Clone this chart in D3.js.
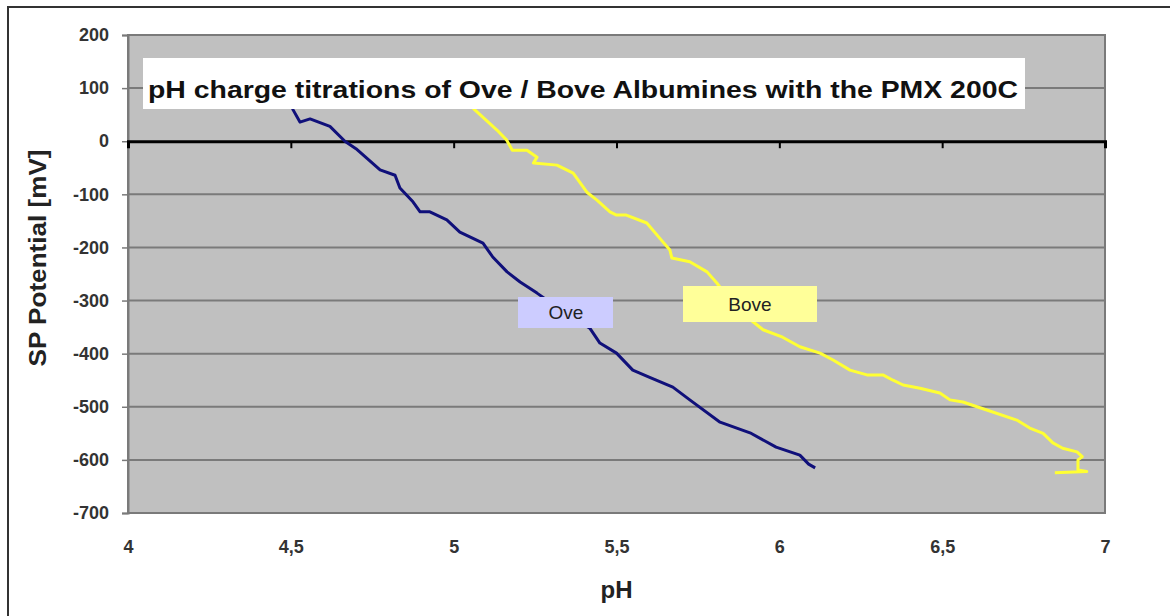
<html>
<meta charset="utf-8">
<style>
body{ margin:0; background:#fff; }
text{ font-family:"Liberation Sans", Arial, sans-serif; }
.tick text{ font-size:18px; font-weight:bold; fill:#333; }
.grid line{ stroke:#7a7a7a; stroke-width:2; }
</style>
<body>
<script src="https://d3js.org/d3.v7.min.js"></script>
<script>

// tick values
var xTicks=[4,4.5,5,5.5,6,6.5,7];
var yTicks=[200,100,0,-100,-200,-300,-400,-500,-600,-700];

// Ove titration (pH, mV)
var ovePH=[4.50,4.507,4.528,4.559,4.62,4.666,4.70,4.774,4.82,4.835,4.875,4.897,4.927,4.979,5.019,5.09,5.12,5.164,5.204,5.256,5.30,5.36,5.418,5.449,5.50,5.55,5.60,5.673,5.725,5.818,5.91,5.99,6.063,6.09,6.11];
var oveMV=[70,59,36,42,28,0,-14,-54,-64,-88,-114,-133,-133,-148,-171,-192,-218,-246,-265,-286,-305,-330,-352,-380,-399,-431,-444,-463,-487,-529,-549,-576,-591,-608,-615];

// Bove titration (pH, mV)
var bovePH=[5.04,5.065,5.133,5.163,5.18,5.225,5.256,5.245,5.317,5.367,5.409,5.44,5.48,5.50,5.53,5.593,5.643,5.664,5.67,5.725,5.778,5.808,5.85,5.919,5.95,6.01,6.063,6.125,6.165,6.217,6.269,6.318,6.349,6.38,6.432,6.493,6.524,6.564,6.607,6.637,6.729,6.769,6.81,6.84,6.87,6.914,6.93,6.917,6.917,6.944,6.846];
var boveMV=[75,59,21,2,-17,-17,-30,-41,-45,-60,-96,-111,-133,-139,-139,-154,-190,-205,-220,-227,-246,-267,-300,-340,-355,-369,-387,-399,-412,-431,-440,-440,-450,-459,-465,-474,-487,-491,-500,-506,-525,-540,-550,-568,-578,-585,-594,-600,-619,-622,-624];

var W=1170, H=616;
var pLeft=128, pRight=1105, pTop=35, pBottom=513;

var svg=d3.select("body").append("svg").attr("width",W).attr("height",H);

// outer frame
svg.append("rect").attr("x",8).attr("y",7).attr("width",W).attr("height",H)
	.attr("fill","#fff").attr("stroke","#333").attr("stroke-width",2);

var x=d3.scaleLinear().domain([4,7]).range([pLeft,pRight]);
var y=d3.scaleLinear().domain([-700,200]).range([pBottom,pTop]);

// plot area
svg.append("rect").attr("x",pLeft).attr("y",pTop).attr("width",pRight-pLeft).attr("height",pBottom-pTop)
	.attr("fill","#c0c0c0").attr("stroke","#7a7a7a").attr("stroke-width",2);

// gridlines
svg.append("g").attr("class","grid")
	.selectAll("line").data(yTicks.filter(d=>d!=0)).enter().append("line")
	.attr("x1",pLeft).attr("x2",pRight).attr("y1",d=>y(d)).attr("y2",d=>y(d));

// y axis
var yAxis=svg.append("g").attr("transform","translate("+pLeft+",0)")
	.call(d3.axisLeft(y).tickValues(yTicks).tickSize(6).tickPadding(13).tickFormat(d=>String(d)));
yAxis.select(".domain").attr("stroke","#7a7a7a").attr("stroke-width",2);
yAxis.selectAll(".tick line").attr("stroke","#7a7a7a").attr("stroke-width",1.5);

// x labels (below plot)
var xAxis=svg.append("g").attr("transform","translate(0,"+pBottom+")")
	.call(d3.axisBottom(x).tickValues(xTicks).tickSize(0).tickPadding(27)
		.tickFormat(d=>String(d).replace(".",",")));
xAxis.select(".domain").remove();

// zero line with ticks
var zAxis=svg.append("g").attr("transform","translate(0,"+y(0)+")")
	.call(d3.axisBottom(x).tickValues(xTicks.slice(1,-1)).tickSize(7).tickFormat(""));
zAxis.select(".domain").attr("stroke","#000").attr("stroke-width",3);
zAxis.selectAll(".tick line").attr("stroke","#000").attr("stroke-width",2);

// curves
var line=d3.line().x(d=>x(d[0])).y(d=>y(d[1])).curve(d3.curveLinear);
var ove=ovePH.map((p,i)=>[p,oveMV[i]]);
var bove=bovePH.map((p,i)=>[p,boveMV[i]]);
svg.append("path").datum(ove).attr("d",line).attr("fill","none")
	.attr("stroke","#10107a").attr("stroke-width",3).attr("stroke-linejoin","round");
svg.append("path").datum(bove).attr("d",line).attr("fill","none")
	.attr("stroke","#ffff33").attr("stroke-width",3).attr("stroke-linejoin","round");

// title box
svg.append("rect").attr("x",143).attr("y",58).attr("width",882).attr("height",51).attr("fill","#fff");
svg.append("text").attr("x",148).attr("y",98)
	.attr("font-size",24).attr("font-weight","bold").attr("fill","#111")
	.attr("textLength",870).attr("lengthAdjust","spacingAndGlyphs")
	.text("pH charge titrations of Ove / Bove Albumines with the PMX 200C");

// series labels
svg.append("rect").attr("x",518).attr("y",297).attr("width",95).attr("height",31).attr("fill","#ccccff");
svg.append("text").attr("x",566).attr("y",319).attr("text-anchor","middle")
	.attr("font-size",19).attr("fill","#222").text("Ove");
svg.append("rect").attr("x",683).attr("y",286).attr("width",134).attr("height",36).attr("fill","#ffff99");
svg.append("text").attr("x",750).attr("y",311).attr("text-anchor","middle")
	.attr("font-size",19).attr("fill","#222").text("Bove");

// axis titles
svg.append("text").attr("x",(pLeft+pRight)/2).attr("y",598).attr("text-anchor","middle")
	.attr("font-size",24).attr("font-weight","bold").attr("fill","#222").text("pH");
svg.append("text").attr("transform","translate(46,258) rotate(-90)").attr("text-anchor","middle")
	.attr("font-size",24).attr("font-weight","bold").attr("fill","#222")
	.attr("textLength",217).attr("lengthAdjust","spacingAndGlyphs").text("SP Potential [mV]");

</script>
</body>
</html>
